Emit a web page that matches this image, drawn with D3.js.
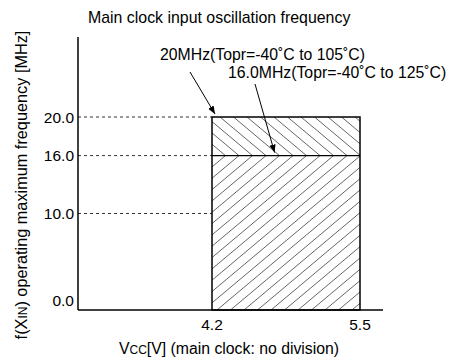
<!DOCTYPE html>
<html><head><meta charset="utf-8">
<script src="https://cdn.jsdelivr.net/npm/d3@7"></script>
<style>body{margin:0;background:#fff}svg{display:block;font-family:"Liberation Sans",Arial,sans-serif}</style>
</head><body>
<script>
const yTicks = [0, 10, 16, 20];
const yTickLabels = ["0.0", "10.0", "16.0", "20.0"];
const xTicks = [4.2, 5.5];
const xTickLabels = ["4.2", "5.5"];
const vccRange = [4.2, 5.5];
const bands = [
  {from: 0, to: 16, hatch: "/"},
  {from: 16, to: 20, hatch: "\\"}
];
const annotations = [
  {text: "20MHz(Topr=-40˚C to 105˚C)", x: 4.2, y: 20},
  {text: "16.0MHz(Topr=-40˚C to 125˚C)", x: 4.75, y: 16}
];

const W = 449, H = 359;
const svg = d3.select("body").append("svg").attr("width", W).attr("height", H);
const x = d3.scaleLinear().domain([4.2, 5.5]).range([212, 360]);
const y = d3.scaleLinear().domain([0, 20]).range([310, 117]);
const axX0 = 78, axX1 = 383, axYTop = 37;

const defs = svg.append("defs");
bands.forEach((b, i) => {
  const x0 = x(vccRange[0]), x1 = x(vccRange[1]), yt = y(b.to), yb = y(b.from);
  defs.append("clipPath").attr("id", "c" + i).append("rect")
    .attr("x", x0).attr("y", yt).attr("width", x1 - x0).attr("height", yb - yt);
  const g = svg.append("g").attr("clip-path", `url(#c${i})`);
  const step = 13.5, k = Math.tan(40 * Math.PI / 180), h = yb - yt;
  for (let s = x0 - h / k - step; s < x1 + h / k + step; s += step) {
    if (b.hatch === "/") {
      g.append("line").attr("x1", s).attr("y1", yb).attr("x2", s + h / k + 2).attr("y2", yt - 2 * k);
    } else {
      g.append("line").attr("x1", s).attr("y1", yt).attr("x2", s + h / k + 2).attr("y2", yb + 2 * k);
    }
  }
  g.selectAll("line").attr("stroke", "#555").attr("stroke-width", 0.9);
});

[20, 16, 10].forEach(v => {
  svg.append("line").attr("x1", axX0).attr("x2", x(vccRange[0])).attr("y1", y(v)).attr("y2", y(v))
    .attr("stroke", "#333").attr("stroke-width", 1).attr("stroke-dasharray", "3,3");
});

const rx0 = x(vccRange[0]), rx1 = x(vccRange[1]);
svg.append("rect").attr("x", rx0).attr("y", y(20)).attr("width", rx1 - rx0).attr("height", y(0) - y(20))
  .attr("fill", "none").attr("stroke", "#000").attr("stroke-width", 1.5);
svg.append("line").attr("x1", rx0).attr("x2", rx1).attr("y1", y(16)).attr("y2", y(16))
  .attr("stroke", "#000").attr("stroke-width", 1.3);

svg.append("line").attr("x1", axX0).attr("x2", axX0).attr("y1", axYTop).attr("y2", y(0))
  .attr("stroke", "#000").attr("stroke-width", 1.5);
svg.append("line").attr("x1", axX0).attr("x2", axX1).attr("y1", y(0)).attr("y2", y(0))
  .attr("stroke", "#000").attr("stroke-width", 1.5);

yTicks.forEach((v, i) => {
  svg.append("text").attr("x", 74).attr("y", y(v) + (v === 0 ? -4 : 5.5))
    .attr("text-anchor", "end").attr("font-size", 15.5).attr("fill", "#000").text(yTickLabels[i]);
});
xTicks.forEach((v, i) => {
  svg.append("text").attr("x", x(v)).attr("y", 330).attr("text-anchor", "middle")
    .attr("font-size", 15.5).attr("fill", "#000").text(xTickLabels[i]);
});

svg.append("text").attr("x", 88).attr("y", 23).attr("font-size", 15.9).attr("fill", "#000")
  .text("Main clock input oscillation frequency");

const xt = svg.append("text").attr("x", 229).attr("y", 354).attr("text-anchor", "middle")
  .attr("font-size", 15.8).attr("fill", "#000");
xt.append("tspan").text("V");
xt.append("tspan").attr("font-size", 12).text("CC");
xt.append("tspan").text("[V] (main clock: no division)");

const yt = svg.append("text").attr("transform", "translate(27,185) rotate(-90)").attr("text-anchor", "middle")
  .attr("font-size", 16.3).attr("fill", "#000");
yt.append("tspan").text("f(X");
yt.append("tspan").attr("font-size", 12).text("IN");
yt.append("tspan").text(") operating maximum frequency [MHz]");

defs.append("marker").attr("id", "ah").attr("viewBox", "0 0 10 10").attr("refX", 10).attr("refY", 5)
  .attr("markerWidth", 8).attr("markerHeight", 8).attr("markerUnits", "userSpaceOnUse").attr("orient", "auto")
  .append("path").attr("d", "M0,1 L10,5 L0,9 Z").attr("fill", "#000");
const annPos = [{tx: 160, ty: 60, lx: 190, ly: 72}, {tx: 228, ty: 78, lx: 255, ly: 84}];
annotations.forEach((a, i) => {
  const p = annPos[i];
  svg.append("text").attr("x", p.tx).attr("y", p.ty).attr("font-size", 15.8).attr("fill", "#000").text(a.text);
  svg.append("line").attr("x1", p.lx).attr("y1", p.ly).attr("x2", x(a.x) + (i === 0 ? 3 : 0)).attr("y2", y(a.y) - 3)
    .attr("stroke", "#000").attr("stroke-width", 1).attr("marker-end", "url(#ah)");
});
</script>
</body></html>
